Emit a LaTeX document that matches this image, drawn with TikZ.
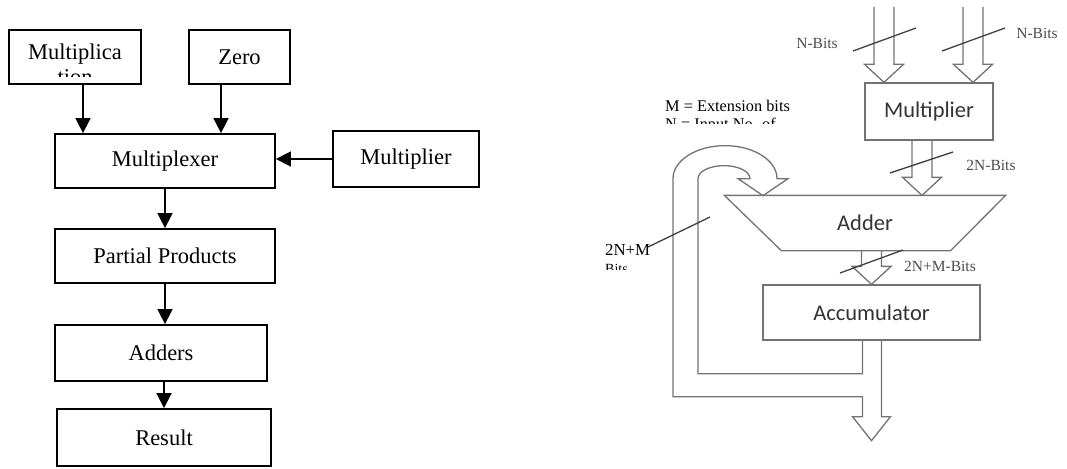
\documentclass[tikz,border=0pt]{standalone}
\usepackage{fontspec}
\setmainfont{Liberation Serif}
\newfontfamily\calfont{Carlito}
\usepackage{tikz}
\usetikzlibrary{arrows.meta,positioning,calc}

% hollow bus arrow: #1 start of shaft, #2 tip
\newcommand{\fatarrow}[2]{%
  \draw[fat] ($(#1)+(-10,0)$) -- ($(#2)+(-10,-18)$) -- ($(#2)+(-19.5,-18)$) -- (#2)
    -- ($(#2)+(19.5,-18)$) -- ($(#2)+(10,-18)$) -- ($(#1)+(10,0)$);}

\begin{document}
\begin{tikzpicture}[x=1pt,y=-1pt,
    block/.style={rectangle, draw, line width=1.8pt, inner sep=0pt, font=\fontsize{22.5}{27}\selectfont},
    txt/.style={inner sep=0pt, font=\fontsize{22.5}{27}\selectfont},
    arr/.style={-{Triangle[width=15pt,length=15pt]}, line width=1.6pt},
    unit/.style={rectangle, draw=black!55, line width=1.3pt, inner sep=0pt, text=black!80, font=\calfont\fontsize{22.5}{27}\selectfont},
    fat/.style={draw=black!55, line width=1.3pt},
    slash/.style={draw=black!75, line width=1.3pt},
    lbl/.style={inner sep=0pt, text=black!70, font=\fontsize{15.5}{18}\selectfont},
    note/.style={inner sep=0pt, anchor=base west, font=\fontsize{16.3}{19}\selectfont}
]
    \useasboundingbox (0,0) rectangle (1067,468);

    % MAC flow
    \node[block, minimum width=132pt, minimum height=54pt] (mcand) at (75,57) {};
    \node[txt, anchor=base] (mcandA) at (75,60) {Multiplica};
    \begin{scope}
        \clip (10,31) rectangle (140,77);
        \node[txt, anchor=base] (mcandB) at (75,85) {tion};
    \end{scope}
    \node[block, minimum width=101pt, minimum height=54pt] (zero) at (239.5,57) {Zero};
    \node[block, minimum width=220pt, minimum height=54pt] (mux) at (165,161) {Multiplexer};
    \node[block, minimum width=146pt, minimum height=56pt] (mplr) at (406,159) {Multiplier};
    \node[block, minimum width=220pt, minimum height=54pt] (pp) at (165,256) {Partial Products};
    \node[block, minimum width=212pt, minimum height=56pt] (adders) at (161,353) {Adders};
    \node[block, minimum width=214pt, minimum height=57pt] (result) at (164,437.5) {Result};

    \draw[arr] (83,0 |- mcand.south) -- (83,0 |- mux.north);
    \draw[arr] (221,0 |- zero.south) -- (221,0 |- mux.north);
    \draw[arr] (mplr.west) -- (mplr.west -| mux.east);
    \draw[arr] (mux.south) -- (pp.north);
    \draw[arr] (pp.south) -- (pp.south |- adders.north);
    \draw[arr] (result.north |- adders.south) -- (result.north);

    % datapath
    \node[unit, minimum width=128pt, minimum height=57pt] (mul) at (929,111.5) {Multiplier};
    \node[unit, draw=none, minimum width=280pt, minimum height=54pt] (adder) at (865,223) {Adder};
    \draw[fat] (adder.north west) -- (adder.north east) -- ([xshift=-55pt]adder.south east)
        -- ([xshift=57pt]adder.south west) -- cycle;
    \node[unit, minimum width=217pt, minimum height=55pt] (acc) at (871.5,312.5) {Accumulator};

    \coordinate (inA) at (884,7);
    \coordinate (inB) at (973,7);
    \coordinate (tipA) at (inA |- mul.north);
    \coordinate (tipB) at (inB |- mul.north);
    \coordinate (prodS) at ([xshift=-7pt]mul.south);
    \coordinate (prodT) at (prodS |- adder.north);
    \coordinate (sumS) at (acc.north |- adder.south);

    \fatarrow{inA}{tipA}
    \fatarrow{inB}{tipB}
    \fatarrow{prodS}{prodT}
    \fatarrow{sumS}{acc.north}

    % feedback and output bus
    \draw[fat] ([xshift=10pt]acc.south) -- ++(0,76) -- ++(9,0) -- ++(-19,24) -- ++(-19,-24)
        -- ++(10,0) -- ++(0,-20) -- ++(-189.5,0) -- ++(0,-218)
        arc[start angle=180, end angle=360, x radius=52, y radius=33]
        -- ++(11,0) -- ++(-25,17) -- ++(-25,-17) -- ++(12,0)
        arc[start angle=0, end angle=-180, x radius=26, y radius=13]
        -- ++(0,195) -- ++(164.5,0) -- ++(0,-33);

    % bus widths
    \draw[slash] (853,51) -- (916,28);
    \draw[slash] (942,51) -- (1005,28);
    \draw[slash] (890,173) -- (953,152);
    \draw[slash] (840,273) -- (903,250);
    \draw[slash] (648,247) -- (710,217);
    \node[lbl] (nbA) at (817,43) {N-Bits};
    \node[lbl] (nbB) at (1037,33) {N-Bits};
    \node[lbl] (nb2) at (991,165) {2N-Bits};
    \node[lbl] (nb3) at (940,266) {2N+M-Bits};
    \node[note, font=\fontsize{16.8}{19}\selectfont] (nb4) at (605,255.5) {2N+M};
    \begin{scope}
        \clip (600,258) rectangle (660,269);
        \node[note, font=\fontsize{14}{16}\selectfont] (nb4b) at (605,273) {Bits};
    \end{scope}

    % legend
    \node[note] (legA) at (665,111) {M = Extension bits};
    \begin{scope}
        \clip (660,114) rectangle (800,123);
        \node[note] (legB) at (665,129) {N = Input No. of};
    \end{scope}
\end{tikzpicture}
\end{document}
